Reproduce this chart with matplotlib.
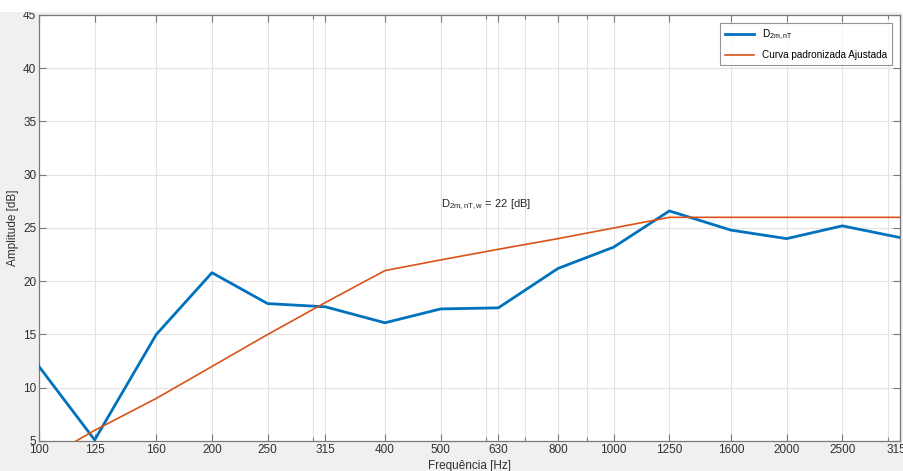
import matplotlib.pyplot as plt
from matplotlib.patches import Rectangle
from matplotlib.ticker import FixedLocator, NullFormatter

plt.rcParams['font.family'] = ['Liberation Sans', 'DejaVu Sans']
plt.rcParams['mathtext.fontset'] = 'custom'
plt.rcParams['mathtext.rm'] = 'Liberation Sans'
plt.rcParams['mathtext.it'] = 'Liberation Sans'
plt.rcParams['mathtext.default'] = 'regular'

# Bandas de terço de oitava
freqs = [100, 125, 160, 200, 250, 315, 400, 500, 630, 800, 1000, 1250, 1600, 2000, 2500, 3150]
freq_labels = ['100', '125', '160', '200', '250', '315', '400', '500', '630', '800',
               '1000', '1250', '1600', '2000', '2500', '3150']

# D2m,nT medido
d2m_nt = [12.0, 5.1, 15.0, 20.8, 17.9, 17.6, 16.1, 17.4, 17.5, 21.2, 23.2, 26.6, 24.8, 24.0, 25.2, 24.1]

# Curva de referência (ISO 717-1) deslocada
curva_ref = [3, 6, 9, 12, 15, 18, 21, 22, 23, 24, 25, 26, 26, 26, 26, 26]

minor_freqs = [300, 600, 700, 900, 3000]

fig = plt.figure(figsize=(9.04, 4.71), dpi=100, facecolor='#f0f0f0')
fig.patches.append(Rectangle((0, 0.975), 1, 0.025, transform=fig.transFigure,
                             facecolor='white', edgecolor='none', zorder=0))
ax = fig.add_axes([0.0431, 0.0637, 0.9525, 0.9045])
ax.set_facecolor('white')

ax.plot(freqs, d2m_nt, color='#0072BD', linewidth=2.0, label=r'D$_{2m,nT}$', zorder=3)
ax.plot(freqs, curva_ref, color='#D95319', linewidth=1.2,
        label='Curva padronizada Ajustada', zorder=3)

ax.set_xscale('log')
ax.set_xlim(100, 3150)
ax.set_ylim(5, 45)
ax.set_xticks(freqs)
ax.set_xticklabels(freq_labels)
ax.xaxis.set_minor_locator(FixedLocator(minor_freqs))
ax.xaxis.set_minor_formatter(NullFormatter())
ax.set_yticks(range(5, 46, 5))

ax.grid(True, which='major', color='#e3e3e3', linewidth=0.8)
ax.grid(True, which='minor', axis='x', color='#e3e3e3', linewidth=0.8)
ax.set_axisbelow(True)

for s in ax.spines.values():
    s.set_color('#7a7a7a')
    s.set_linewidth(0.9)
ax.tick_params(which='major', direction='in', length=5, width=0.8, color='#7a7a7a',
               top=True, right=True, labelsize=8.5, labelcolor='#303030', pad=2)
ax.tick_params(which='minor', direction='in', length=3, width=0.8, color='#7a7a7a',
               top=True, right=True)

ax.set_xlabel('Frequência [Hz]', fontsize=8.5, color='#303030', labelpad=3)
ax.set_ylabel('Amplitude [dB]', fontsize=8.5, color='#303030', labelpad=3)

ax.text(500, 27.2, r'D$_{2m,nT,w}$ = 22 [dB]', fontsize=8, color='#262626',
        ha='left', va='center')

leg = ax.legend(loc='upper right', fontsize=7.2, frameon=True, fancybox=False,
                borderpad=0.5, handlelength=2.9, borderaxespad=0.8, labelspacing=0.8)
leg.get_frame().set_edgecolor('#7a7a7a')
leg.get_frame().set_linewidth(0.8)

fig.savefig('out.png', dpi=100, facecolor=fig.get_facecolor())
